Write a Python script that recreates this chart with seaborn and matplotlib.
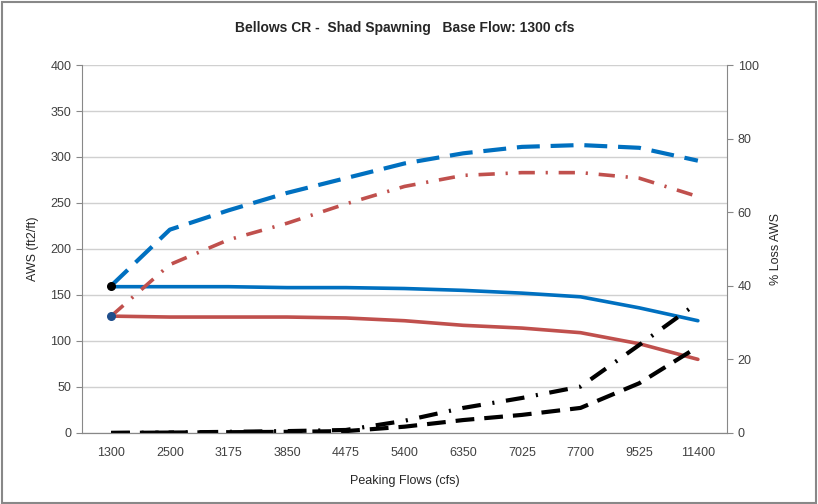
import pandas as pd
import matplotlib
matplotlib.use('Agg')
import matplotlib.pyplot as plt
import seaborn as sns

# chart values
flows = ['1300', '2500', '3175', '3850', '4475', '5400', '6350', '7025', '7700', '9525', '11400']
aws_blue_dash = [160, 221, 242, 261, 277, 293, 304, 311, 313, 310, 296]
aws_red_dashdot = [127, 183, 210, 228, 249, 268, 280, 283, 283, 277, 257]
aws_blue_solid = [159, 159, 159, 158, 158, 157, 155, 152, 148, 136, 122]
aws_red_solid = [127, 126, 126, 126, 125, 122, 117, 114, 109, 97, 80]
loss_dashdot = [0, 0.1, 0.3, 0.5, 0.8, 3.3, 6.8, 9.5, 12.6, 23.9, 35.4]
loss_dash = [0, 0.1, 0.2, 0.3, 0.5, 1.7, 3.5, 4.9, 6.8, 13.5, 23.4]

df = pd.DataFrame({'flow': flows, 'blue_dash': aws_blue_dash, 'red_dd': aws_red_dashdot,
                   'blue': aws_blue_solid, 'red': aws_red_solid,
                   'k_dd': loss_dashdot, 'k_dash': loss_dash})

sns.set_style('white')
plt.rcParams['font.family'] = ['Liberation Sans', 'DejaVu Sans']

fig = plt.figure(figsize=(8.18, 5.04), dpi=100)
ax = fig.add_axes([0.100, 0.141, 0.789, 0.730])
ax2 = ax.twinx()

blue = '#0070C0'
red = '#C0504D'
lw = 2.6

sns.lineplot(data=df, x='flow', y='blue', ax=ax, color=blue, lw=lw, sort=False)
sns.lineplot(data=df, x='flow', y='red', ax=ax, color=red, lw=lw, sort=False)
sns.lineplot(data=df, x='flow', y='blue_dash', ax=ax, color=blue, lw=3, sort=False).lines[-1].set_dashes([5.5, 2.6])
sns.lineplot(data=df, x='flow', y='red_dd', ax=ax, color=red, lw=lw, sort=False).lines[-1].set_dashes([4.5, 3, 0.6, 3])
ax.scatter([flows[0]], [aws_blue_dash[0]], color='black', s=30, zorder=5)
ax.scatter([flows[0]], [aws_red_solid[0]], color='#1F4E8C', s=30, zorder=5)

sns.lineplot(data=df, x='flow', y='k_dd', ax=ax2, color='black', lw=3, sort=False).lines[-1].set_dashes([4.5, 2.8, 0.5, 2.8])
sns.lineplot(data=df, x='flow', y='k_dash', ax=ax2, color='black', lw=3, sort=False).lines[-1].set_dashes([4.5, 2.4])

ax.set_xlim(-0.5, len(flows) - 0.5)
ax.set_ylim(0, 400)
ax.set_yticks(range(0, 401, 50))
ax2.set_ylim(0, 100)
ax2.set_yticks(range(0, 101, 20))

ax.set_xticks(range(len(flows)))
ax.set_xticklabels(flows)
ax.set_xticks([i - 0.5 for i in range(len(flows) + 1)], minor=True)
ax.tick_params(axis='x', which='major', length=0, labelsize=9, colors='#404040', pad=10)
ax.tick_params(axis='x', which='minor', length=5, color='#888888', direction='out')
ax.tick_params(axis='y', length=4, color='#888888', labelsize=9, colors='#404040', direction='out')
ax2.tick_params(axis='y', length=4, color='#888888', labelsize=9, colors='#404040', direction='out')

ax.grid(axis='y', color='#D0D0D0', lw=1)
ax.set_axisbelow(True)
for a in (ax, ax2):
    a.spines['top'].set_visible(False)
    a.spines['left'].set_color('#888888')
    a.spines['right'].set_color('#888888')
    a.spines['bottom'].set_color('#888888')
ax2.spines['left'].set_visible(False)
ax.spines['right'].set_visible(False)

ax.set_xlabel('Peaking Flows (cfs)', fontsize=9, labelpad=12)
ax.set_ylabel('AWS (ft2/ft)', fontsize=9, labelpad=8)
ax2.set_ylabel('% Loss AWS', fontsize=9, labelpad=8)
ax.set_title('Bellows CR -  Shad Spawning   Base Flow: 1300 cfs', fontsize=10,
             fontweight='bold', pad=24)

fig.patches.append(plt.Rectangle((0.002, 0.002), 0.996, 0.994, transform=fig.transFigure,
                                 fill=False, edgecolor='#888888', lw=1.5))

fig.savefig('out.png', dpi=100)
